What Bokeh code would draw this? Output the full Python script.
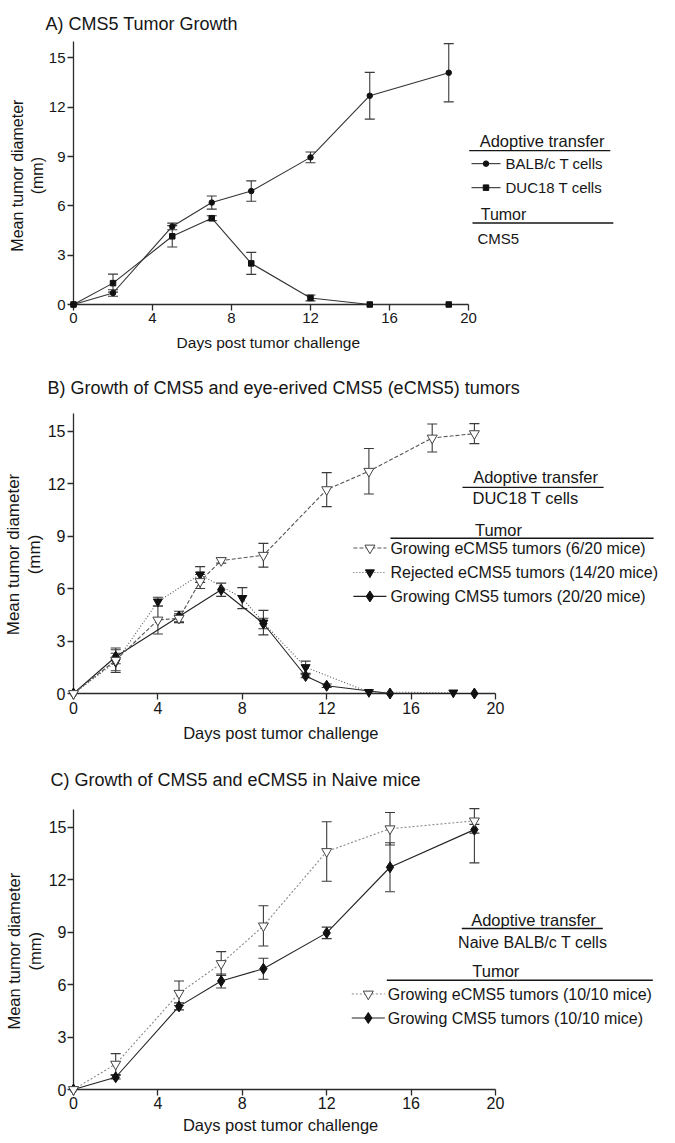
import math
from bokeh.plotting import figure
from bokeh.models import (Range1d, FixedTicker, Whisker, ColumnDataSource,
                          Label, Arrow, TeeHead, Title)
from bokeh.core.properties import value
from bokeh.layouts import column
from bokeh.embed import file_html
from bokeh.resources import INLINE

FONT = "Liberation Sans"
TXT = "#161616"
AX = "#2b2b2b"
ERR = "#3a3a3a"

# ---------------- data ----------------
# Panel A
a_days = [0, 2, 5, 7, 9, 12, 15, 19]
a_balb_mean = [0, 0.7, 4.75, 6.2, 6.9, 8.95, 12.7, 14.1]
a_balb_err = [0, 0.2, 0.2, 0.4, 0.62, 0.33, 1.42, 1.77]
a_duc_mean = [0, 1.3, 4.15, 5.25, 2.5, 0.4, 0, 0]
a_duc_err = [0, 0.55, 0.65, 0.15, 0.67, 0.18, 0, 0]

# Panel B
b_grow_e_days = [0, 2, 4, 5, 6, 7, 9, 12, 14, 17, 19]
b_grow_e_mean = [0, 1.9, 4.2, 4.3, 6.4, 7.6, 7.9, 11.65, 12.7, 14.6, 14.85]
b_grow_e_err = [0, 0.7, 0.8, 0.25, 0.4, 0.15, 0.68, 0.97, 1.3, 0.8, 0.57]
b_rej_days = [0, 2, 4, 6, 8, 9, 11, 14, 18]
b_rej_mean = [0, 1.8, 5.25, 6.8, 5.45, 4.05, 1.5, 0.08, 0.05]
b_rej_err = [0, 0.5, 0.25, 0.45, 0.6, 0.7, 0.35, 0, 0]
b_cms5_days = [0, 2, 5, 7, 9, 11, 12, 15, 19]
b_cms5_mean = [0, 2.1, 4.4, 5.93, 4.0, 1.0, 0.44, 0, 0]
b_cms5_err = [0, 0.4, 0.3, 0.38, 0.3, 0.1, 0.1, 0, 0]

# Panel C
c_days = [0, 2, 5, 7, 9, 12, 15, 19]
c_grow_e_mean = [0, 1.45, 5.5, 7.2, 9.35, 13.6, 14.9, 15.35]
c_grow_e_err = [0.15, 0.6, 0.7, 0.68, 1.15, 1.7, 0.93, 0.7]
c_cms5_mean = [0, 0.7, 4.75, 6.2, 6.9, 8.95, 12.7, 14.85]
c_cms5_err_low = [0, 0.1, 0.2, 0.4, 0.6, 0.33, 1.4, 1.9]
c_cms5_err_high = [0, 0.1, 0.2, 0.4, 0.6, 0.33, 1.4, 0.3]

x_ticks = [0, 4, 8, 12, 16, 20]
y_ticks = [0, 3, 6, 9, 12, 15]
X_MAX = 20
Y_MAX = 16
X_LABEL = "Days post tumor challenge"
Y_LABEL = ["Mean tumor diameter", "(mm)"]

# reference axes geometry (page px): left, right (x=20), top (y=16), bottom (y=0)
GA = (76.3, 471.0, 41.0, 303.7)
GB = (78.3, 500.0, 412.7, 693.3)
GC = (80.7, 502.7, 815.0, 1095.0)


def dxy(g, px, py):
    L, R, T, B = g
    return (px - L) / (R - L) * X_MAX, (B - py) / (B - T) * Y_MAX


def make_fig(title, toff, axis_w, axis_h, fw, fh, bl, bt, bb, tick_fs, mls):
    # frame spans from the axes to the canvas right edge so that annotations are not clipped
    p = figure(frame_width=fw, frame_height=fh, min_border_left=bl, min_border_right=0,
               min_border_top=bt, min_border_bottom=bb,
               x_range=Range1d(0, X_MAX * fw / axis_w), y_range=Range1d(0, Y_MAX * fh / axis_h),
               output_backend="svg", toolbar_location=None,
               title=Title(text=title, align="left", offset=toff, standoff=0,
                           vertical_align="middle", text_font=FONT, text_font_size="18px",
                           text_font_style="normal", text_color=TXT))
    p.outline_line_color = None
    p.xgrid.visible = False
    p.ygrid.visible = False
    p.background_fill_color = "white"
    p.border_fill_color = "white"
    p.xaxis.ticker = FixedTicker(ticks=x_ticks)
    p.yaxis.ticker = FixedTicker(ticks=y_ticks)
    p.xaxis.bounds = (0, X_MAX)
    p.yaxis.bounds = (0, Y_MAX)
    for ax in (p.xaxis[0], p.yaxis[0]):
        ax.minor_tick_line_color = None
        ax.major_tick_out = 6
        ax.major_tick_in = 0
        ax.major_tick_line_color = AX
        ax.major_tick_line_width = 1.3
        ax.axis_line_color = AX
        ax.axis_line_width = 1.3
        ax.major_label_text_font = FONT
        ax.major_label_text_font_size = tick_fs
        ax.major_label_text_color = TXT
        ax.major_label_standoff = mls
    return p


def axis_titles(p, g, xl_px, xl_py, xl_fs, yl_px1, yl_px2, yl_py, yl_fs):
    # axis titles positioned relative to the axes (the frame extends past the x axis end)
    x, y = dxy(g, xl_px, xl_py)
    p.text(x=[x], y=[y], text=[X_LABEL], text_font=value(FONT), text_font_size=value(xl_fs),
           text_color=TXT, text_align="center", text_baseline="middle", level="overlay")
    x1, y1 = dxy(g, yl_px1, yl_py)
    x2, y2 = dxy(g, yl_px2, yl_py)
    p.text(x=[x1, x2], y=[y1, y2], text=Y_LABEL, angle=math.pi / 2,
           text_font=value(FONT), text_font_size=value(yl_fs),
           text_color=TXT, text_align="center", text_baseline="middle", level="overlay")


def add_err(p, xs, ys, lo, hi=None):
    if hi is None:
        hi = lo
    keep = [i for i in range(len(xs)) if lo[i] > 0 or hi[i] > 0]
    src = ColumnDataSource(dict(
        x=[xs[i] for i in keep],
        lower=[ys[i] - lo[i] for i in keep],
        upper=[ys[i] + hi[i] for i in keep]))
    w = Whisker(source=src, base="x", lower="lower", upper="upper", dimension="height",
                line_color=ERR, line_width=1.1, level="annotation",
                upper_head=TeeHead(size=10, line_color=ERR, line_width=1.1),
                lower_head=TeeHead(size=10, line_color=ERR, line_width=1.1))
    p.add_layout(w)


def series(p, xs, ys, style):
    p.line(xs, ys, line_color=style["lc"], line_width=1.1, line_dash=style["dash"],
           level="overlay")
    p.scatter(xs, ys, marker=style["marker"], size=style["size"], fill_color=style["fill"],
              line_color=style["mc"], line_width=1, level="overlay")


def text(p, g, px, py, s, fs, align="center"):
    x, y = dxy(g, px, py)
    p.add_layout(Label(x=x, y=y, text=s, text_font=FONT, text_font_size=fs,
                       text_color=TXT, text_align=align, text_baseline="middle"))


def rule(p, g, px0, px1, py):
    x0, y0 = dxy(g, px0, py)
    x1, y1 = dxy(g, px1, py)
    p.add_layout(Arrow(x_start=x0, y_start=y0, x_end=x1, y_end=y1, start=None, end=None,
                       line_color=TXT, line_width=1.4))


def key(p, g, x0px, x1px, ypx, style, label, label_px, fs):
    # legend key: sample line with the series marker, then its label
    xa, ya = dxy(g, x0px, ypx)
    xb, _ = dxy(g, x1px, ypx)
    xm, _ = dxy(g, (x0px + x1px) / 2, ypx)
    p.line([xa, xb], [ya, ya], line_color=style["lc"], line_width=1.1, line_dash=style["dash"],
           level="overlay")
    p.scatter([xm], [ya], marker=style["marker"], size=style["size"], fill_color=style["fill"],
              line_color=style["mc"], line_width=1, level="overlay")
    text(p, g, label_px, ypx, label, fs, "left")


S_BALB = dict(marker="circle", size=5.5, fill="#111", mc="#111", lc="#333", dash="solid")
S_DUC = dict(marker="square", size=5.5, fill="#111", mc="#111", lc="#333", dash="solid")
S_GROW_E = dict(marker="inverted_triangle", size=10, fill="white", mc="#444", lc="#555",
                dash="4 2")
S_REJ = dict(marker="inverted_triangle", size=9, fill="#111", mc="#111", lc="#555", dash="1 2")
S_CMS5 = dict(marker="diamond", size=11, fill="#111", mc="#111", lc="#222", dash="solid")
S_GROW_E_C = dict(marker="inverted_triangle", size=10, fill="white", mc="#444", lc="#888",
                  dash="2 2")

# ---------------- Panel A ----------------
pA = make_fig("A) CMS5 Tumor Growth", -28, 395, 263, 591, 270, 68, 34, 54, "15px", 2)
add_err(pA, a_days, a_balb_mean, a_balb_err)
add_err(pA, a_days, a_duc_mean, a_duc_err)
series(pA, a_days, a_balb_mean, S_BALB)
series(pA, a_days, a_duc_mean, S_DUC)
axis_titles(pA, GA, 271, 342, "15.5px", 20, 40, 175, "16px")
text(pA, GA, 544.5, 140.7, "Adoptive transfer", "16.5px")
rule(pA, GA, 471.7, 612.7, 150)
key(pA, GA, 474, 503, 163, S_BALB, "BALB/c T cells", 508, "15px")
key(pA, GA, 474, 503, 187, S_DUC, "DUC18 T cells", 508, "15px")
text(pA, GA, 506, 214.3, "Tumor", "16px")
rule(pA, GA, 475, 615.7, 222.3)
text(pA, GA, 480, 237.3, "CMS5", "15px", "left")

# ---------------- Panel B ----------------
pB = make_fig("B) Growth of CMS5 and eye-erived CMS5 (eCMS5) tumors", -26, 422, 280, 589, 295,
              70, 40, 57, "16px", 2)
add_err(pB, b_grow_e_days, b_grow_e_mean, b_grow_e_err)
add_err(pB, b_rej_days, b_rej_mean, b_rej_err)
add_err(pB, b_cms5_days, b_cms5_mean, b_cms5_err)
series(pB, b_cms5_days, b_cms5_mean, S_CMS5)
series(pB, b_rej_days, b_rej_mean, S_REJ)
series(pB, b_grow_e_days, b_grow_e_mean, S_GROW_E)
axis_titles(pB, GB, 285.5, 733, "16.5px", 18.5, 39.5, 554, "17px")
text(pB, GB, 540, 476.7, "Adoptive transfer", "16.5px")
rule(pB, GB, 467, 608, 486.7)
text(pB, GB, 477, 497.3, "DUC18 T cells", "16.5px", "left")
text(pB, GB, 503, 529, "Tumor", "16.5px")
rule(pB, GB, 395, 658, 537.7)
key(pB, GB, 358, 391, 547.5, S_GROW_E, "Growing eCMS5 tumors (6/20 mice)", 395, "16px")
key(pB, GB, 358, 391, 572, S_REJ, "Rejected eCMS5 tumors (14/20 mice)", 395, "16px")
key(pB, GB, 358, 391, 596, S_CMS5, "Growing CMS5 tumors (20/20 mice)", 395, "16px")

# ---------------- Panel C ----------------
pC = make_fig("C) Growth of CMS5 and eCMS5 in Naive mice", -23, 422, 280, 586, 299,
              73, 40, 46, "16px", 1)
add_err(pC, c_days, c_grow_e_mean, c_grow_e_err)
add_err(pC, c_days, c_cms5_mean, c_cms5_err_low, c_cms5_err_high)
series(pC, c_days, c_cms5_mean, S_CMS5)
series(pC, c_days, c_grow_e_mean, S_GROW_E_C)
axis_titles(pC, GC, 287.8, 1130, "16.5px", 21, 42, 956.7, "16.5px")
text(pC, GC, 540.7, 925, "Adoptive transfer", "16.5px")
rule(pC, GC, 469, 610, 934)
text(pC, GC, 540, 947.7, "Naive BALB/c T cells", "16px")
text(pC, GC, 503, 976.7, "Tumor", "16.5px")
rule(pC, GC, 394, 660, 985.7)
key(pC, GC, 359, 392, 999.5, S_GROW_E_C, "Growing eCMS5 tumors (10/10 mice)", 395, "16px")
key(pC, GC, 359, 392, 1023.5, S_CMS5, "Growing CMS5 tumors (10/10 mice)", 395, "16px")

layout = column(pA, pB, pC, spacing=0)
open("out.html", "w").write(file_html(layout, INLINE))
